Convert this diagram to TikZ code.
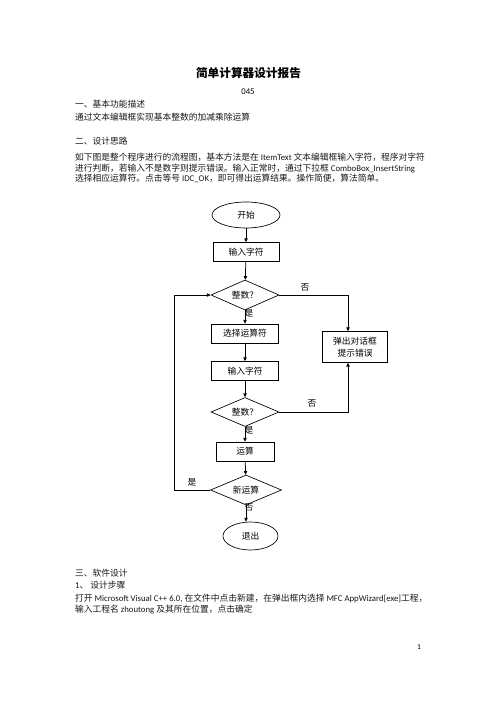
\documentclass[tikz,border=0pt]{standalone}
\usepackage{fontspec}
\setmainfont{Noto Sans CJK SC}
\newfontfamily\lat{Carlito}
\usetikzlibrary{shapes.geometric,arrows.meta}
\tikzset{
  body/.style={anchor=west, inner sep=0pt, text=black!90, font=\fontsize{10.5pt}{12pt}\selectfont},
  boxn/.style={draw, line width=0.8pt, inner sep=0pt, minimum width={#1*1.2pt}, minimum height={19*1.2pt}, font=\fontsize{10.5pt}{12pt}\selectfont},
  ovaln/.style={draw, ellipse, line width=0.8pt, inner sep=0pt, font=\fontsize{10.5pt}{12pt}\selectfont},
  decn/.style={draw, diamond, aspect=2.3, line width=0.8pt, inner sep=0pt, font=\fontsize{10.5pt}{12pt}\selectfont},
  lbl/.style={inner sep=0pt, font=\fontsize{10.5pt}{12pt}\selectfont},
  conn/.style={line width=0.9pt, -{Triangle[length=4.5pt,width=4pt]}},
  plain/.style={line width=0.9pt}
}
\begin{document}
\begin{tikzpicture}[x=1.2pt,y=-1.2pt]
\fill[white] (0,0) rectangle (496,702);
\useasboundingbox (0,0) rectangle (496,702);

% header text
\node[inner sep=0pt, font=\fontsize{14pt}{16pt}\selectfont\bfseries] (title) at (248.5,73) {简单计算器设计报告};
\node[inner sep=0pt, font=\fontsize{10.5pt}{12pt}\selectfont\lat] (num) at (248,92) {045};
\node[body] (h1) at (75,104) {一、基本功能描述};
\node[body] (p1) at (75,117.3) {通过文本编辑框实现基本整数的加减乘除运算};
\node[body] (h2) at (75,140.7) {二、设计思路};
\node[body] (p2a) at (75,157.3) {如下图是整个程序进行的流程图，基本方法是在 {\lat ItemText} 文本编辑框输入字符，程序对字符};
\node[body] (p2b) at (75,168.3) {进行判断，若输入不是数字则提示错误。输入正常时，通过下拉框 {\lat ComboBox\_InsertString}};
\node[body] (p2c) at (75,178) {选择相应运算符。点击等号 {\lat IDC\_OK}，即可得出运算结果。操作简便，算法简单。};

% flowchart
\node[ovaln, minimum width={68*1.2pt}, minimum height={26*1.2pt}] (start) at (246,215) {开始};
\node[boxn=66] (in1) at (246,252) {输入字符};
\node[decn, minimum width={68*1.2pt}, minimum height={30*1.2pt}] (d1) at (245,295) {整数？};
\node[boxn=67] (sel) at (245,333.5) {选择运算符};
\node[draw, line width=0.8pt, inner sep=0pt, minimum width={65*1.2pt}, minimum height={31*1.2pt}, align=center, font=\fontsize{10.5pt}{15pt}\selectfont] (err) at (355,347) {弹出对话框\\提示错误};
\node[boxn=67] (in2) at (245,371) {输入字符};
\node[decn, minimum width={68*1.2pt}, minimum height={29*1.2pt}] (d2) at (245,412) {整数？};
\node[boxn=58] (op) at (245,451.5) {运算};
\node[decn, minimum width={71*1.2pt}, minimum height={30*1.2pt}] (d3) at (246,490) {新运算};
\node[ovaln, minimum width={55*1.2pt}, minimum height={28*1.2pt}] (quit) at (250.5,536) {退出};

\coordinate (c1) at (348,295);
\coordinate (c2) at (348,412);
\coordinate (c3) at (174,490);
\coordinate (c4) at (174,295);

\draw[conn] (start) -- (in1);
\draw[conn] (in1) -- (d1);
\draw[conn] (d1) -- (sel);
\draw[conn] (sel) -- (in2);
\draw[conn] (in2) -- (d2);
\draw[conn] (d2) -- (op);
\draw[conn] (op) -- (d3);
\draw[conn] (d3.south) -- (d3.south |- quit.north);
\draw[conn] (d1.east) -- (c1) -- (c1 |- err.north);
\draw[conn] (d2.east) -- (c2) -- (c2 |- err.south);
\draw[conn] (d3.west) -- (c3) -- (c4) -- (d1.west);

\node[lbl] (no1) at (305,287) {否};
\node[lbl] (yes1) at (249,313) {是};
\node[lbl] (no2) at (312,403) {否};
\node[lbl] (yes2) at (249,430) {是};
\node[lbl] (yes3) at (192,482) {是};
\node[lbl] (no3) at (249,507) {否};

% footer text
\node[body] (h3) at (75,573) {三、软件设计};
\node[body] (h4) at (75,585) {{\lat 1}、 设计步骤};
\node[body] (p3a) at (75,598) {打开 {\lat Microsoft Visual C++ 6.0,} 在文件中点击新建，在弹出框内选择 {\lat MFC AppWizard[exe]}工程，};
\node[body] (p3b) at (75,610) {输入工程名 {\lat zhoutong} 及其所在位置，点击确定};
\node[inner sep=0pt, font=\fontsize{9pt}{10pt}\selectfont\lat] (pg) at (419,647) {1};
\end{tikzpicture}
\end{document}
